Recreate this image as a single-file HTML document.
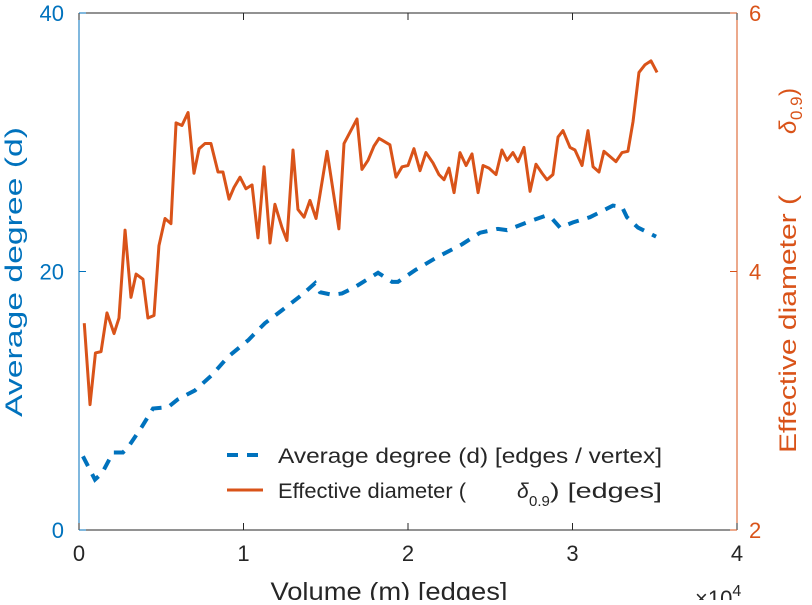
<!DOCTYPE html>
<html><head><meta charset="utf-8"><style>
body{margin:0;background:#fff;width:812px;height:600px;overflow:hidden;font-family:"Liberation Sans",sans-serif}
</style></head><body>
<svg id="chart" width="812" height="600" xmlns="http://www.w3.org/2000/svg" font-family="Liberation Sans, sans-serif">
<g id="axes"></g>
<g id="series"></g>
<g>
  <line x1="227" y1="455" x2="263" y2="455" stroke="#0072BD" stroke-width="4" stroke-dasharray="11,9"/>
  <text x="278" y="463" font-size="21" textLength="384" lengthAdjust="spacingAndGlyphs" fill="#262626">Average degree (d) [edges / vertex]</text>
  <line x1="227" y1="490" x2="263" y2="490" stroke="#D95319" stroke-width="3"/>
  <text x="278" y="498" font-size="21" textLength="188" lengthAdjust="spacingAndGlyphs" fill="#262626">Effective diameter (</text>
  <text x="517" y="498" font-size="21" font-style="italic" fill="#262626">δ</text>
  <text x="529" y="506" font-size="15" fill="#262626">0.9</text>
  <text x="550" y="498" font-size="21" textLength="112" lengthAdjust="spacingAndGlyphs" fill="#262626">) [edges]</text>
</g>
<text transform="translate(22,272) rotate(-90)" text-anchor="middle" font-size="24" textLength="290" lengthAdjust="spacingAndGlyphs" fill="#0072BD">Average degree (d)</text>
<g fill="#D95319">
  <text transform="translate(796,453) rotate(-90)" font-size="24" textLength="258" lengthAdjust="spacingAndGlyphs">Effective diameter (</text>
  <text transform="translate(796,134) rotate(-90)" font-size="24" font-style="italic">δ</text>
  <text transform="translate(802,120) rotate(-90)" font-size="17">0.9</text>
  <text transform="translate(796,96) rotate(-90)" font-size="24">)</text>
</g>
<text x="389" y="600" text-anchor="middle" font-size="25" textLength="237" lengthAdjust="spacingAndGlyphs" fill="#262626">Volume (m) [edges]</text>
<text x="695" y="606" font-size="22" fill="#262626">×10<tspan font-size="16" dy="-10">4</tspan></text>
</svg>
<script>
const xTicks=[0,1,2,3,4];
const leftTicks=[0,20,40];
const rightTicks=[2,4,6];
const degX=[0.024,0.097,0.14,0.207,0.267,0.298,0.383,0.45,0.541,0.60,0.705,0.809,0.906,1.03,1.13,1.234,1.356,1.435,1.465,1.538,1.599,1.678,1.818,1.903,1.939,2.043,2.176,2.328,2.438,2.547,2.602,2.723,2.833,2.875,2.924,3.003,3.106,3.246,3.301,3.331,3.398,3.508];
const degY=[5.7,3.9,4.4,6.0,6.0,6.4,8.0,9.4,9.5,10.1,10.8,12.0,13.4,14.7,16.0,17.0,18.2,19.1,18.4,18.2,18.3,18.8,19.9,19.2,19.2,20.1,21.1,22.1,23.0,23.3,23.2,23.8,24.3,24.1,23.4,23.8,24.2,25.1,25.0,24.2,23.4,22.7];
const diaX=[0.032,0.067,0.10,0.134,0.17,0.213,0.243,0.28,0.316,0.347,0.389,0.419,0.456,0.486,0.523,0.559,0.59,0.626,0.663,0.699,0.73,0.766,0.802,0.845,0.875,0.912,0.942,0.979,1.015,1.052,1.088,1.125,1.161,1.191,1.234,1.264,1.301,1.331,1.368,1.404,1.441,1.508,1.58,1.611,1.69,1.72,1.757,1.793,1.824,1.89,1.927,1.964,2.0,2.036,2.073,2.109,2.152,2.188,2.219,2.249,2.28,2.316,2.353,2.389,2.426,2.456,2.492,2.535,2.571,2.602,2.638,2.669,2.705,2.742,2.778,2.815,2.845,2.881,2.912,2.942,2.985,3.015,3.058,3.094,3.125,3.161,3.191,3.228,3.264,3.301,3.337,3.368,3.404,3.441,3.477,3.514];
const diaY=[3.60,2.97,3.37,3.38,3.68,3.52,3.64,4.32,3.80,3.98,3.94,3.64,3.66,4.20,4.41,4.37,5.15,5.13,5.23,4.76,4.95,4.99,4.99,4.77,4.77,4.56,4.65,4.73,4.64,4.67,4.26,4.81,4.22,4.52,4.34,4.24,4.94,4.48,4.42,4.55,4.41,4.93,4.33,4.99,5.18,4.79,4.86,4.97,5.03,4.98,4.73,4.81,4.82,4.95,4.78,4.92,4.84,4.75,4.71,4.80,4.61,4.92,4.82,4.91,4.61,4.82,4.80,4.75,4.94,4.86,4.92,4.85,4.96,4.62,4.83,4.76,4.71,4.75,5.04,5.09,4.96,4.94,4.82,5.09,4.81,4.77,4.93,4.89,4.85,4.92,4.93,5.16,5.54,5.60,5.63,5.54];

const X0=79,X1=737,Y0=530,Y1=13;
const sx=v=>X0+(v-0)/4*(X1-X0);
const syL=v=>Y0-(v/40)*(Y0-Y1);
const syR=v=>Y0-((v-2)/4)*(Y0-Y1);
const NS='http://www.w3.org/2000/svg';
function mk(tag,attrs,parent){const e=document.createElementNS(NS,tag);for(const k in attrs)e.setAttribute(k,attrs[k]);parent.appendChild(e);return e;}
const ax=document.getElementById('axes');
let l=mk('line',{x1:X0,y1:Y0,x2:X1,y2:Y0,stroke:'#262626','stroke-width':1},ax);


l=mk('line',{x1:X0,y1:Y1,x2:X1,y2:Y1,stroke:'#262626','stroke-width':1},ax);


l=mk('line',{x1:X0,y1:Y0,x2:X0,y2:Y1,stroke:'#0072BD','stroke-width':1},ax);


l=mk('line',{x1:X1,y1:Y0,x2:X1,y2:Y1,stroke:'#D95319','stroke-width':1},ax);


xTicks.forEach(t=>{
  const x=sx(t);
  const tk=mk('line',{x1:x,y1:Y0,x2:x,y2:Y0-7,stroke:'#262626'},ax);
  
  
  const tk2=mk('line',{x1:x,y1:Y1,x2:x,y2:Y1+7,stroke:'#262626'},ax);
  
  
  const tx=mk('text',{x:x,y:Y0+31,'text-anchor':'middle','font-size':22,fill:'#262626'},ax);
  tx.textContent=t;
  
  
});
leftTicks.forEach(t=>{
  const y=syL(t);
  const tk=mk('line',{x1:X0,y1:y,x2:X0+7,y2:y,stroke:'#0072BD'},ax);
  
  
  const tx=mk('text',{x:X0-15,y:y+8,'text-anchor':'end','font-size':22,fill:'#0072BD'},ax);
  tx.textContent=t;
  
  
});
rightTicks.forEach(t=>{
  const y=syR(t);
  const tk=mk('line',{x1:X1,y1:y,x2:X1-7,y2:y,stroke:'#D95319'},ax);
  
  
  const tx=mk('text',{x:X1+12,y:y+8,'text-anchor':'start','font-size':22,fill:'#D95319'},ax);
  tx.textContent=t;
  
  
});
const sg=document.getElementById('series');
const p1=mk('polyline',{points:diaX.map((x,i)=>sx(x)+','+syR(diaY[i])).join(' '),fill:'none',stroke:'#D95319','stroke-width':3,'stroke-linejoin':'round'},sg);


const p2=mk('polyline',{points:degX.map((x,i)=>sx(x)+','+syL(degY[i])).join(' '),fill:'none',stroke:'#0072BD','stroke-width':4,'stroke-dasharray':'11,9'},sg);


</script>
</body></html>
